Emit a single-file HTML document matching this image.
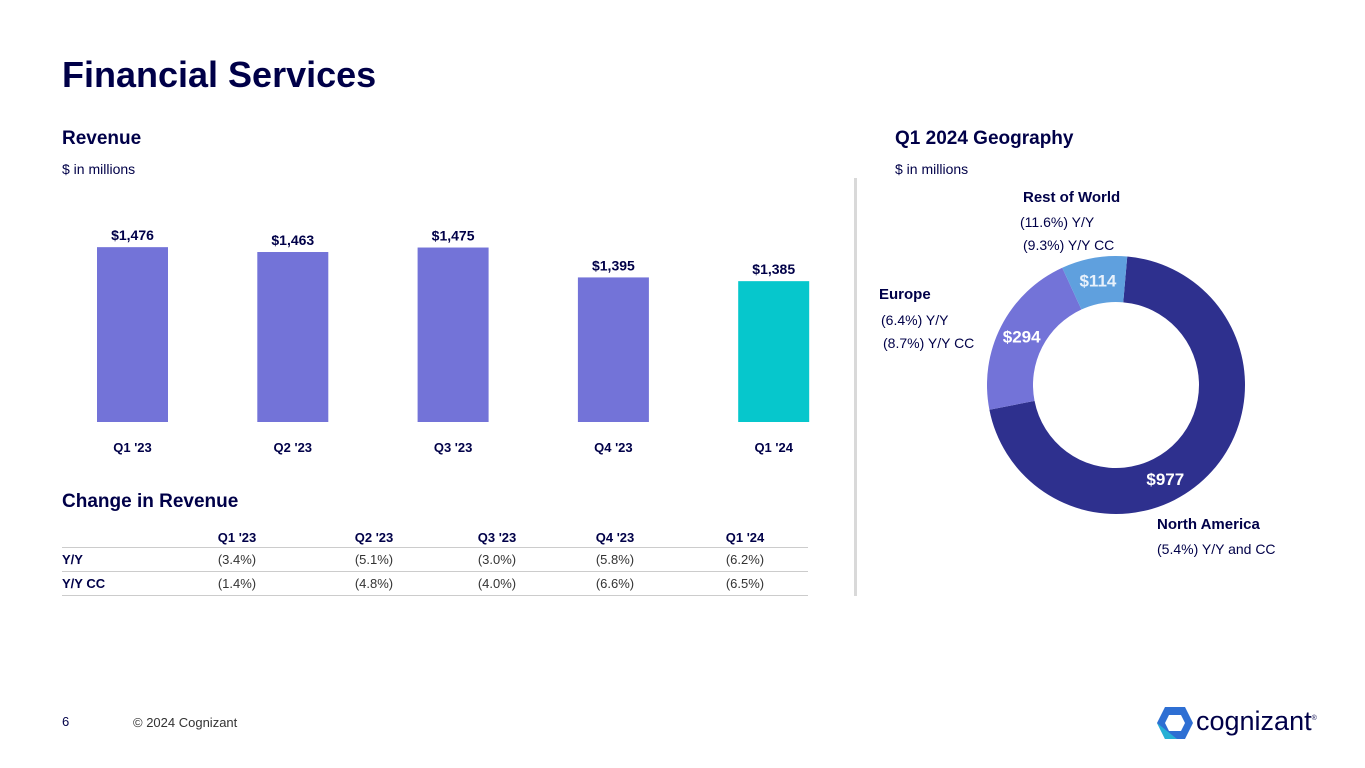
<!DOCTYPE html>
<html><head><meta charset="utf-8"><style>
body{margin:0;width:1365px;height:768px;background:#fff;font-family:"Liberation Sans",sans-serif;color:#000048;position:relative;overflow:hidden}
.a{position:absolute;white-space:nowrap}
.t{font-weight:bold}
table{position:absolute;left:62px;top:528px;width:746px;border-collapse:collapse;font-size:13px;table-layout:fixed}
td{height:23px;border-bottom:1px solid #ccc;text-align:center;color:#333;padding:0}
td:first-child{text-align:left;font-weight:bold;color:#000048}
tr.h td{font-weight:bold;color:#000048;border-bottom:1px solid #ccc;height:19px}
</style></head><body>
<div class="a t" style="left:62px;top:54px;font-size:36px">Financial Services</div>
<div class="a t" style="left:62px;top:128px;font-size:19px">Revenue</div>
<div class="a" style="left:62px;top:161px;font-size:14px">$ in millions</div>
<div class="a t" style="left:895px;top:128px;font-size:19px">Q1 2024 Geography</div>
<div class="a" style="left:895px;top:161px;font-size:14px">$ in millions</div>
<div class="a" style="left:854px;top:178px;width:3px;height:418px;background:#d9d9d9"></div>
<svg class="a" style="left:0;top:0" width="850" height="470" id="bars"></svg>
<div class="a t" style="left:62px;top:491px;font-size:19px">Change in Revenue</div>
<table>
<colgroup><col style="width:110px"><col style="width:130px"><col style="width:144px"><col style="width:102px"><col style="width:134px"><col style="width:126px"></colgroup>
<tr class="h"><td></td><td>Q1 '23</td><td>Q2 '23</td><td>Q3 '23</td><td>Q4 '23</td><td>Q1 '24</td></tr>
<tr><td>Y/Y</td><td>(3.4%)</td><td>(5.1%)</td><td>(3.0%)</td><td>(5.8%)</td><td>(6.2%)</td></tr>
<tr><td>Y/Y CC</td><td>(1.4%)</td><td>(4.8%)</td><td>(4.0%)</td><td>(6.6%)</td><td>(6.5%)</td></tr>
</table>
<svg class="a" style="left:0;top:0" width="1365" height="600" id="donut"></svg>
<div class="a t" style="left:1023px;top:189px;font-size:15px">Rest of World</div>
<div class="a" style="left:1020px;top:214px;font-size:14px">(11.6%) Y/Y</div>
<div class="a" style="left:1023px;top:237px;font-size:14px">(9.3%) Y/Y CC</div>
<div class="a t" style="left:879px;top:286px;font-size:15px">Europe</div>
<div class="a" style="left:881px;top:312px;font-size:14px">(6.4%) Y/Y</div>
<div class="a" style="left:883px;top:335px;font-size:14px">(8.7%) Y/Y CC</div>
<div class="a t" style="left:1157px;top:516px;font-size:15px">North America</div>
<div class="a" style="left:1157px;top:541px;font-size:14px">(5.4%) Y/Y and CC</div>
<div class="a" style="left:62px;top:714px;font-size:13px">6</div>
<div class="a" style="left:133px;top:715px;font-size:13px;color:#333">© 2024 Cognizant</div>
<svg class="a" style="left:1155px;top:705px" width="40" height="36"><polygon points="10,2 30,2 38,18 30,34 10,34 2,18" fill="#2e6fd3"/><polygon points="14,10 26,10 30,18 26,26 14,26 10,18" fill="#fff"/><polygon points="2,18 10,34 22,34" fill="#26c0d6" opacity=".8"/></svg>
<div class="a" style="left:1196px;top:706px;font-size:27px;color:#000048">cognizant<sup style="font-size:7px">®</sup></div>
<script>
const categories=["Q1 '23","Q2 '23","Q3 '23","Q4 '23","Q1 '24"];
const revenue=[1476,1463,1475,1395,1385];
const revenueLabels=["$1,476","$1,463","$1,475","$1,395","$1,385"];
const regions=["North America","Europe","Rest of World"];
const regionValues=[977,294,114];
const regionLabels=["$977","$294","$114"];
const NS="http://www.w3.org/2000/svg";
function mk(p,t,a){const e=document.createElementNS(NS,t);for(const k in a)e.setAttribute(k,a[k]);p.appendChild(e);return e;}
const bs=document.getElementById('bars');
const base=422,k=0.3736,vmin=1008;
const y=v=>base-(v-vmin)*k, x=i=>97+i*160.3;
categories.forEach((c,i)=>{
 const r=mk(bs,'rect',{x:x(i),y:y(revenue[i]),width:71,height:base-y(revenue[i]),fill:i==4?'#06c7cc':'#7373d8'});
 
 
 const t=mk(bs,'text',{x:x(i)+35.5,y:y(revenue[i])-7,'text-anchor':'middle','font-size':14,'font-weight':'bold',fill:'#000048','font-family':'Liberation Sans'});t.textContent=revenueLabels[i];
 
 
 const l=mk(bs,'text',{x:x(i)+35.5,y:452,'text-anchor':'middle','font-size':13,'font-weight':'bold',fill:'#000048','font-family':'Liberation Sans'});l.textContent=c;
 
 
});
const ds=document.getElementById('donut');
const cx=1116,cy=385,R=129,r0=83,cols=['#2e308e','#7373d8','#5fa0de'];
const tot=regionValues.reduce((a,b)=>a+b,0);
let ang=5;
const pt=(a,rr)=>[cx+rr*Math.sin(a*Math.PI/180),cy-rr*Math.cos(a*Math.PI/180)];
regionValues.forEach((v,i)=>{
 const sw=v/tot*360,a2=ang+sw,lg=sw>180?1:0;
 const [x1,y1]=pt(ang,R),[x2,y2]=pt(a2,R),[x3,y3]=pt(a2,r0),[x4,y4]=pt(ang,r0);
 const p=mk(ds,'path',{d:`M${x1},${y1}A${R},${R} 0 ${lg} 1 ${x2},${y2}L${x3},${y3}A${r0},${r0} 0 ${lg} 0 ${x4},${y4}Z`,fill:cols[i]});
 
 
 const m=i==0?ang+sw*0.58:ang+sw/2;const [lx,ly]=pt(m,(R+r0)/2);
 const t=mk(ds,'text',{x:lx,y:ly+6,'text-anchor':'middle','font-size':17,'font-weight':'bold',fill:i==2?'#e8f1fb':'#fff','font-family':'Liberation Sans'});t.textContent=regionLabels[i];
 
 
 ang=a2;
});
</script>
</body></html>
